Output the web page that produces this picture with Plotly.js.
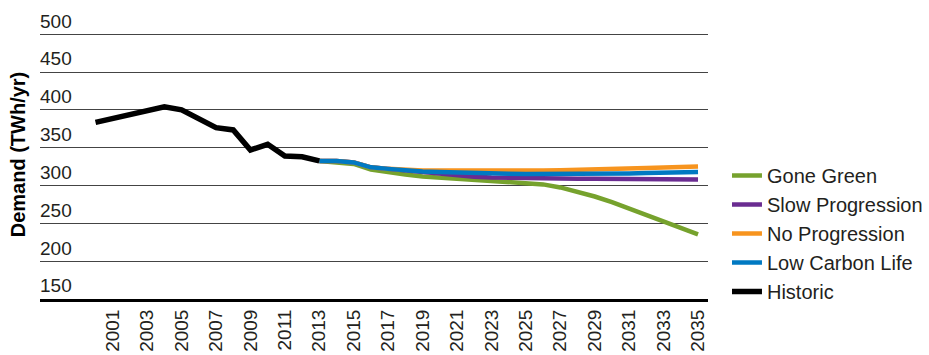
<!DOCTYPE html>
<html>
<head>
<meta charset="utf-8">
<script src="https://cdn.plot.ly/plotly-3.0.1.min.js"></script>
<style>html,body{margin:0;padding:0;background:#fff;}#chart{width:929px;height:355px;}</style>
</head>
<body>
<div id="chart"></div>
<script>
const histYears = [2000,2001,2002,2003,2004,2005,2006,2007,2008,2009,2010,2011,2012,2013];
const historic = [383.5,389,394,399.5,404,400,389,376.5,373.5,347,354.5,339,338,332.5];

const projYears = [2013,2014,2015,2016,2017,2018,2019,2020,2021,2022,2023,2024,2025,2026,2027,2028,2029,2030,2031,2032,2033,2034,2035];
const goneGreen = [332.5,331,328.5,321,317.5,314.5,312,310.5,309,307.5,306.5,305.5,304,301.5,297.5,292,285.5,278,269.5,261,253,244.5,235.5];
const slowProgression = [332.5,332.5,330.5,324,322,320,317,315,313,311.5,310.5,310,309.8,309.5,309.3,309,309,308.8,308.6,308.4,308.2,308,307.8];
const noProgression = [332.5,332.5,330.5,324,322,320.5,320,319.8,319.6,319.5,319.5,319.5,319.7,320,320.3,320.6,321,321.7,322.4,323.1,323.8,324.5,325.2];
const lowCarbonLife = [332.5,332.5,330.5,324,322,320,318.5,317.8,317,316.4,316,315.5,315.3,315.2,315.2,315.3,315.5,315.7,316,316.4,316.8,317.3,317.8];

const tickYears = [2001,2003,2005,2007,2009,2011,2013,2015,2017,2019,2021,2023,2025,2027,2029,2031,2033,2035];
const tickLabels = tickYears.map(String);
const yTicks = [150,200,250,300,350,400,450,500];

const FONT = 'Liberation Sans, Arial, sans-serif';

const traces = [
  {x: projYears, y: goneGreen, name: 'Gone Green', line: {color: '#76A22D', width: 4.5}},
  {x: projYears, y: slowProgression, name: 'Slow Progression', line: {color: '#6A2C91', width: 4.5}},
  {x: projYears, y: noProgression, name: 'No Progression', line: {color: '#F7941E', width: 4.5}},
  {x: projYears, y: lowCarbonLife, name: 'Low Carbon Life', line: {color: '#0079C2', width: 4.5}},
  {x: histYears, y: historic, name: 'Historic', line: {color: '#000000', width: 5.5}}
].map(t => Object.assign({type: 'scatter', mode: 'lines', hoverinfo: 'skip'}, t));

const layout = {
  width: 929, height: 355,
  margin: {l: 40, r: 221, t: 10, b: 56, pad: 0, autoexpand: false},
  paper_bgcolor: '#fff', plot_bgcolor: '#fff',
  font: {family: FONT, color: '#231F20', size: 19},
  showlegend: true,
  legend: {
    x: 1.0284, xanchor: 'left', y: 0.4948, yanchor: 'top',
    font: {family: FONT, size: 20, color: '#231F20'},
    bgcolor: 'rgba(0,0,0,0)', borderwidth: 0, traceorder: 'normal'
  },
  xaxis: {
    type: 'linear', range: [1996.775, 2035.58],
    tickmode: 'array', tickvals: tickYears, ticktext: tickLabels,
    tickangle: -90, ticks: '', showgrid: false, zeroline: false,
    showline: true, linecolor: '#000', linewidth: 3,
    tickfont: {family: FONT, size: 19, color: '#231F20'},
    automargin: false, fixedrange: true
  },
  yaxis: {
    range: [150, 532],
    tickmode: 'array', tickvals: yTicks,
    ticks: '', showgrid: true, gridcolor: '#444', gridwidth: 1,
    zeroline: false, showline: false,
    ticklabelposition: 'inside top',
    ticklabelstandoff: -3,
    tickfont: {family: FONT, size: 19, color: '#231F20'},
    title: {text: 'Demand (TWh/yr)', font: {family: FONT, size: 20, color: '#000', weight: 'bold'}, standoff: 9},
    automargin: false, fixedrange: true
  }
};

Plotly.newPlot('chart', traces, layout, {displayModeBar: false, staticPlot: true});
</script>
</body>
</html>
